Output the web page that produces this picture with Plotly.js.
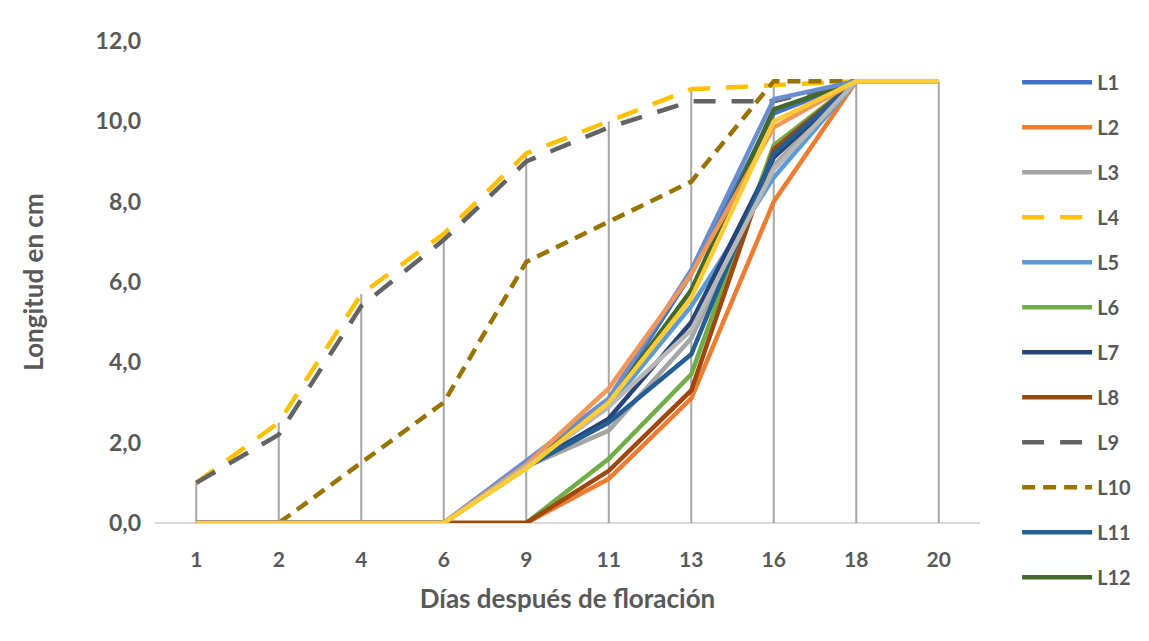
<!DOCTYPE html>
<html>
<head>
<meta charset="utf-8">
<script src="https://cdn.plot.ly/plotly-3.0.1.min.js"></script>
<style>
  html, body { margin: 0; padding: 0; background: #ffffff; }
  #chart { width: 1149px; height: 641px; }
</style>
</head>
<body>
<div id="chart"></div>
<script>
// Días después de floración (categorías del eje X)
const dias = ['1', '2', '4', '6', '9', '11', '13', '16', '18', '20'];

// Longitud (cm) de cada línea
const L1  = [0, 0, 0,   0,    1.5,  3.0,  6.2,  10.2, 11, 11];
const L2  = [0, 0, 0,   0,    0,    1.1,  3.1,  8.0,  11, 11];
const L3  = [0, 0, 0,   0,    1.4,  2.3,  4.6,  8.9,  11, 11];
const L4  = [1.0, 2.5, 5.7, 7.2, 9.2, 10.0, 10.8, 10.9, 11, 11];
const L5  = [0, 0, 0,   0,    1.4,  2.9,  5.4,  8.6,  11, 11];
const L6  = [0, 0, 0,   0,    0,    1.6,  3.7,  9.4,  11, 11];
const L7  = [0, 0, 0,   0,    1.4,  2.6,  5.0,  9.1,  11, 11];
const L8  = [0, 0, 0,   0,    0,    1.3,  3.3,  9.3,  11, 11];
const L9  = [1.0, 2.2, 5.4, 7.05, 9.0, 9.85, 10.5, 10.5, 11, 11];
const L10 = [0, 0, 1.5, 3.0,  6.5,  7.5,  8.5,  11.0, 11, 11];
const L11 = [0, 0, 0,   0,    1.4,  2.5,  4.2,  9.2,  11, 11];
const L12 = [0, 0, 0,   0,    1.5,  3.0,  5.8,  10.3, 11, 11];
const L13 = [0, 0, 0,   0,    1.55, 3.1,  6.3,  10.55, 11, 11];
const L14 = [0, 0, 0,   0,    1.45, 3.35, 6.2,  9.85, 11, 11];
const L15 = [0, 0, 0,   0,    1.4,  2.9,  4.8,  8.8,  11, 11];
const L16 = [0, 0, 0,   0,    1.35, 3.0,  5.6,  10.0, 11, 11];

const yTicks = [0, 2, 4, 6, 8, 10, 12];

const series = [
  { name: 'L1',  y: L1,  color: '#4472C4', dash: 'solid' },
  { name: 'L2',  y: L2,  color: '#ED7D31', dash: 'solid' },
  { name: 'L3',  y: L3,  color: '#A5A5A5', dash: 'solid' },
  { name: 'L4',  y: L4,  color: '#FFC000', dash: '22px,16px' },
  { name: 'L5',  y: L5,  color: '#5B9BD5', dash: 'solid' },
  { name: 'L6',  y: L6,  color: '#70AD47', dash: 'solid' },
  { name: 'L7',  y: L7,  color: '#264478', dash: 'solid' },
  { name: 'L8',  y: L8,  color: '#9E480E', dash: 'solid' },
  { name: 'L9',  y: L9,  color: '#636363', dash: '22px,16px' },
  { name: 'L10', y: L10, color: '#997300', dash: '13px,8px' },
  { name: 'L11', y: L11, color: '#255E91', dash: 'solid' },
  { name: 'L12', y: L12, color: '#43682B', dash: 'solid' },
  { name: 'L13', y: L13, color: '#698ED0', dash: 'solid', hide: true },
  { name: 'L14', y: L14, color: '#F1975A', dash: 'solid', hide: true },
  { name: 'L15', y: L15, color: '#B7B7B7', dash: 'solid', hide: true },
  { name: 'L16', y: L16, color: '#FFCD33', dash: 'solid', hide: true }
];

// Líneas de proyección: de 0 al valor máximo de cada día
const dropX = [], dropY = [];
dias.forEach((d, i) => {
  const top = Math.max(...series.map(s => s.y[i]));
  dropX.push(d, d, null);
  dropY.push(0, top, null);
});

const traces = [{
  x: dropX, y: dropY, mode: 'lines', type: 'scatter',
  line: { color: '#A6A6A6', width: 2 },
  showlegend: false, hoverinfo: 'skip'
}];

series.forEach((s, k) => {
  traces.push({
    x: dias, y: s.y, name: s.name, type: 'scatter', mode: 'lines',
    line: { color: s.color, width: 4.5, dash: s.dash },
    legendgroup: 'g' + k,
    showlegend: !s.hide
  });
});

const base = { family: 'Lato, "Open Sans", sans-serif', color: '#595959', weight: 700 };
const tickFontY = { ...base, size: 23 };
const tickFontX = { ...base, size: 21 };
const legendFont = { ...base, size: 20 };
const titleFont = { ...base, size: 26 };

const layout = {
  width: 1149, height: 641,
  paper_bgcolor: '#ffffff', plot_bgcolor: '#ffffff',
  margin: { l: 155, r: 169, t: 41, b: 118 },
  font: base,
  separators: ',.',
  xaxis: {
    type: 'category',
    categoryorder: 'array', categoryarray: dias,
    range: [-0.5, dias.length - 0.5],
    showgrid: false, zeroline: false,
    showline: false,
    ticks: '', ticklabelstandoff: 22,
    tickfont: tickFontX,
    title: { text: 'Días después de floración', font: titleFont, standoff: 19 }
  },
  yaxis: {
    range: [0, 12], tickvals: yTicks, tickformat: '.1f',
    showgrid: false, zeroline: true, zerolinecolor: '#D9D9D9', zerolinewidth: 1.5,
    showline: false, ticks: '', ticklabelstandoff: 13,
    tickfont: tickFontY,
    title: { text: 'Longitud en cm', font: titleFont, standoff: 44 }
  },
  legend: {
    x: 1.045, xanchor: 'left', y: 0.955, yanchor: 'top',
    font: legendFont, itemwidth: 70, tracegroupgap: 16,
    maxheight: 620,
    bgcolor: 'rgba(0,0,0,0)'
  },
  showlegend: true
};

Plotly.newPlot('chart', traces, layout, { displayModeBar: false, staticPlot: true });
</script>
</body>
</html>
